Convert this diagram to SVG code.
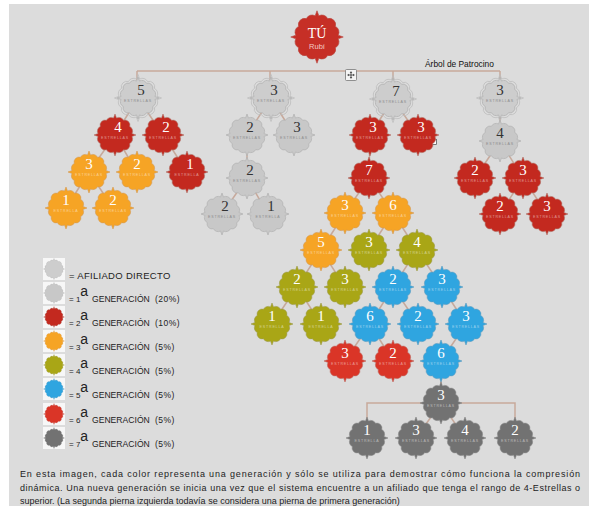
<svg xmlns="http://www.w3.org/2000/svg" width="589" height="508" viewBox="0 0 589 508">
<style>
.bg{fill:#dcdcdc}
.e{stroke:#c7a99b;stroke-width:1.5;fill:none}
.d{fill:#cdcdcd;stroke:#b3b3b3;stroke-width:0.8}
.dr{fill:none;stroke:#bdbdbd;stroke-width:0.7}
.g1{fill:#c8c8c8;stroke:#b5b5b5;stroke-width:0.8}
.r2{fill:#c3291f;stroke:#b0766c;stroke-width:0.6}
.o3{fill:#f6a425;stroke:#d39a55;stroke-width:0.6}
.v4{fill:#a9a616;stroke:#9c9a4a;stroke-width:0.6}
.b5{fill:#2fa5e0;stroke:#5d9cc0;stroke-width:0.6}
.r6{fill:#da3527;stroke:#c0675e;stroke-width:0.6}
.k7{fill:#727272;stroke:#8a8a8a;stroke-width:0.6}
.num{font-family:"Liberation Serif",serif;font-size:15px;text-anchor:middle}
.st{font-family:"Liberation Sans",sans-serif;font-size:3.6px;letter-spacing:0.8px;text-anchor:middle}
.dk{fill:#333}
.sd{fill:#8c8c8c}
.lt{fill:#fff}
.sl{fill:#fff;fill-opacity:0.5}
.lg{font-family:"Liberation Sans",Arial,sans-serif;fill:#222}
.ic{fill:#f7f7f7}
.gn{font-size:8.6px}
.pc{font-size:8.5px;letter-spacing:0.5px}
.para{font-family:"Liberation Sans",Arial,sans-serif;font-size:9px;fill:#222}
</style>
<defs>
<path id="bd" d="M1.48 -16.94 A5 5 0 0 1 8.5 -14.72 A5 5 0 0 1 14.72 -8.5 A5 5 0 0 1 16.94 -1.48 L21 0 L16.94 1.48 A5 5 0 0 1 14.72 8.5 A5 5 0 0 1 8.5 14.72 A5 5 0 0 1 1.48 16.94 L0 21 L-1.48 16.94 A5 5 0 0 1 -8.5 14.72 A5 5 0 0 1 -14.72 8.5 A5 5 0 0 1 -16.94 1.48 L-21 0 L-16.94 -1.48 A5 5 0 0 1 -14.72 -8.5 A5 5 0 0 1 -8.5 -14.72 A5 5 0 0 1 -1.48 -16.94 L0 -21 Z"/>
</defs>
<rect class="bg" x="9" y="4" width="580" height="502"/>

<g id="connectors" class="e">
<path d="M137 71H500M137 71V80M270 71V80M393 71V80M500 71V80"/>
<path d="M138 98L115 135M138 98L163 135M115 135L89 172M115 135L137 172M163 135L187 172M89 172L66 208M89 172L113 208"/>
<path d="M271 98L247 135M271 98L294 135M247 135L247 178M247 178L222 214M247 178L268 214"/>
<path d="M393 99L370 135M393 99L418 135M370 135L369 178M369 178L345 213M369 178L393 213M345 213L321 250M393 213L369 250M393 213L417 250M321 250L297 287M321 250L345 287M417 250L393 287M417 250L442 287M297 287L272 324M297 287L321 324M393 287L370 324M393 287L418 324M442 287L466 324M370 324L345 361M370 324L393 361M466 324L441 361M441 361L441 403"/>
<path d="M367 438V403H515V438M441 403L416 438M441 403L465 438"/>
<path d="M500 98L500 141M500 141L475 178M500 141L523 178M523 178L500 214M523 178L547 214"/>
</g>

<g id="root">
<use href="#bd" transform="translate(317 37) scale(1.25)" fill="#c62f26" stroke="#b8463e" stroke-width="0.5"/>
<text x="317" y="38" font-family="Liberation Serif,serif" font-size="14" fill="#fff" text-anchor="middle">TÚ</text>
<text x="317" y="49" font-family="Liberation Sans,sans-serif" font-size="7.5" fill="#f3c9c4" text-anchor="middle">Rubí</text>
</g>

<text id="title" x="425" y="67" font-family="Liberation Sans,Arial,sans-serif" font-size="8.4" fill="#111">Árbol de Patrocino</text>

<g id="move-icon">
<rect x="345.5" y="69.5" width="11" height="11" rx="1" fill="#f4f4f4" stroke="#777" stroke-width="0.8"/>
<path d="M351 72V78M348 75H354" stroke="#333" stroke-width="0.8"/>
<path d="M351 71.2l-1.3 1.5h2.6z M351 78.8l-1.3-1.5h2.6z M347.2 75l1.5-1.3v2.6z M354.8 75l-1.5-1.3v2.6z" fill="#333"/>
</g>
<rect id="handle" x="431.5" y="139.5" width="5" height="5" fill="#fff" stroke="#444" stroke-width="0.7"/>

<!-- direct affiliates -->
<g id="d5"><use href="#bd" class="dr" transform="translate(138 98) scale(1.12)"/><use href="#bd" class="d" x="138" y="98"/><text class="num dk" x="141" y="95">5</text><text class="st sd" x="138" y="101.5">ESTRELLAS</text></g>
<g id="d3a"><use href="#bd" class="dr" transform="translate(271 98) scale(1.12)"/><use href="#bd" class="d" x="271" y="98"/><text class="num dk" x="274" y="95">3</text><text class="st sd" x="271" y="101.5">ESTRELLAS</text></g>
<g id="d7"><use href="#bd" class="dr" transform="translate(393 99) scale(1.12)"/><use href="#bd" class="d" x="393" y="99"/><text class="num dk" x="396" y="96">7</text><text class="st sd" x="393" y="102.5">ESTRELLAS</text></g>
<g id="d3b"><use href="#bd" class="dr" transform="translate(500 98) scale(1.12)"/><use href="#bd" class="d" x="500" y="98"/><text class="num dk" x="500" y="95">3</text><text class="st sd" x="500" y="101.5">ESTRELLAS</text></g>

<!-- 1st generation gray -->
<g id="g1a"><use href="#bd" class="g1" x="247" y="135"/><text class="num dk" x="250" y="132">2</text><text class="st sd" x="247" y="138.5">ESTRELLAS</text></g>
<g id="g1b"><use href="#bd" class="g1" x="294" y="135"/><text class="num dk" x="297" y="132">3</text><text class="st sd" x="294" y="138.5">ESTRELLAS</text></g>
<g id="g1c"><use href="#bd" class="g1" x="247" y="178"/><text class="num dk" x="250" y="175">2</text><text class="st sd" x="247" y="181.5">ESTRELLAS</text></g>
<g id="g1d"><use href="#bd" class="g1" x="222" y="214"/><text class="num dk" x="225" y="211">2</text><text class="st sd" x="222" y="217.5">ESTRELLAS</text></g>
<g id="g1e"><use href="#bd" class="g1" x="268" y="214"/><text class="num dk" x="271" y="211">1</text><text class="st sd" x="268" y="217.5">ESTRELLA</text></g>
<g id="g1f"><use href="#bd" class="g1" x="500" y="141"/><text class="num dk" x="500" y="138">4</text><text class="st sd" x="500" y="144.5">ESTRELLAS</text></g>

<!-- 2nd generation red -->
<g id="r2a"><use href="#bd" class="r2" x="115" y="135"/><text class="num lt" x="118" y="132">4</text><text class="st sl" x="115" y="138.5">ESTRELLAS</text></g>
<g id="r2b"><use href="#bd" class="r2" x="163" y="135"/><text class="num lt" x="166" y="132">2</text><text class="st sl" x="163" y="138.5">ESTRELLAS</text></g>
<g id="r2c"><use href="#bd" class="r2" x="187" y="172"/><text class="num lt" x="190" y="169">1</text><text class="st sl" x="187" y="175.5">ESTRELLA</text></g>
<g id="r2d"><use href="#bd" class="r2" x="370" y="135"/><text class="num lt" x="373" y="132">3</text><text class="st sl" x="370" y="138.5">ESTRELLAS</text></g>
<g id="r2e"><use href="#bd" class="r2" x="418" y="135"/><text class="num lt" x="421" y="132">3</text><text class="st sl" x="418" y="138.5">ESTRELLAS</text></g>
<g id="r2f"><use href="#bd" class="r2" x="369" y="178"/><text class="num lt" x="369" y="175">7</text><text class="st sl" x="369" y="181.5">ESTRELLAS</text></g>
<g id="r2g"><use href="#bd" class="r2" x="475" y="178"/><text class="num lt" x="475" y="175">2</text><text class="st sl" x="475" y="181.5">ESTRELLAS</text></g>
<g id="r2h"><use href="#bd" class="r2" x="523" y="178"/><text class="num lt" x="523" y="175">3</text><text class="st sl" x="523" y="181.5">ESTRELLAS</text></g>
<g id="r2i"><use href="#bd" class="r2" x="500" y="214"/><text class="num lt" x="500" y="211">2</text><text class="st sl" x="500" y="217.5">ESTRELLAS</text></g>
<g id="r2j"><use href="#bd" class="r2" x="547" y="214"/><text class="num lt" x="547" y="211">3</text><text class="st sl" x="547" y="217.5">ESTRELLAS</text></g>

<!-- 3rd generation orange -->
<g id="o3a"><use href="#bd" class="o3" x="89" y="172"/><text class="num lt" x="89" y="169">3</text><text class="st sl" x="89" y="175.5">ESTRELLAS</text></g>
<g id="o3b"><use href="#bd" class="o3" x="137" y="172"/><text class="num lt" x="137" y="169">2</text><text class="st sl" x="137" y="175.5">ESTRELLAS</text></g>
<g id="o3c"><use href="#bd" class="o3" x="66" y="208"/><text class="num lt" x="66" y="205">1</text><text class="st sl" x="66" y="211.5">ESTRELLA</text></g>
<g id="o3d"><use href="#bd" class="o3" x="113" y="208"/><text class="num lt" x="113" y="205">2</text><text class="st sl" x="113" y="211.5">ESTRELLAS</text></g>
<g id="o3e"><use href="#bd" class="o3" x="345" y="213"/><text class="num lt" x="345" y="210">3</text><text class="st sl" x="345" y="216.5">ESTRELLAS</text></g>
<g id="o3f"><use href="#bd" class="o3" x="393" y="213"/><text class="num lt" x="393" y="210">6</text><text class="st sl" x="393" y="216.5">ESTRELLAS</text></g>
<g id="o3g"><use href="#bd" class="o3" x="321" y="250"/><text class="num lt" x="321" y="247">5</text><text class="st sl" x="321" y="253.5">ESTRELLAS</text></g>

<!-- 4th generation olive -->
<g id="v4a"><use href="#bd" class="v4" x="369" y="250"/><text class="num lt" x="369" y="247">3</text><text class="st sl" x="369" y="253.5">ESTRELLAS</text></g>
<g id="v4b"><use href="#bd" class="v4" x="417" y="250"/><text class="num lt" x="417" y="247">4</text><text class="st sl" x="417" y="253.5">ESTRELLAS</text></g>
<g id="v4c"><use href="#bd" class="v4" x="297" y="287"/><text class="num lt" x="297" y="284">2</text><text class="st sl" x="297" y="290.5">ESTRELLAS</text></g>
<g id="v4d"><use href="#bd" class="v4" x="345" y="287"/><text class="num lt" x="345" y="284">3</text><text class="st sl" x="345" y="290.5">ESTRELLAS</text></g>
<g id="v4e"><use href="#bd" class="v4" x="272" y="324"/><text class="num lt" x="272" y="321">1</text><text class="st sl" x="272" y="327.5">ESTRELLA</text></g>
<g id="v4f"><use href="#bd" class="v4" x="321" y="324"/><text class="num lt" x="321" y="321">1</text><text class="st sl" x="321" y="327.5">ESTRELLA</text></g>

<!-- 5th generation blue -->
<g id="b5a"><use href="#bd" class="b5" x="393" y="287"/><text class="num lt" x="393" y="284">2</text><text class="st sl" x="393" y="290.5">ESTRELLAS</text></g>
<g id="b5b"><use href="#bd" class="b5" x="442" y="287"/><text class="num lt" x="442" y="284">3</text><text class="st sl" x="442" y="290.5">ESTRELLAS</text></g>
<g id="b5c"><use href="#bd" class="b5" x="370" y="324"/><text class="num lt" x="370" y="321">6</text><text class="st sl" x="370" y="327.5">ESTRELLAS</text></g>
<g id="b5d"><use href="#bd" class="b5" x="418" y="324"/><text class="num lt" x="418" y="321">2</text><text class="st sl" x="418" y="327.5">ESTRELLAS</text></g>
<g id="b5e"><use href="#bd" class="b5" x="466" y="324"/><text class="num lt" x="466" y="321">3</text><text class="st sl" x="466" y="327.5">ESTRELLAS</text></g>
<g id="b5f"><use href="#bd" class="b5" x="441" y="361"/><text class="num lt" x="441" y="358">6</text><text class="st sl" x="441" y="364.5">ESTRELLAS</text></g>

<!-- 6th generation red -->
<g id="r6a"><use href="#bd" class="r6" x="345" y="361"/><text class="num lt" x="345" y="358">3</text><text class="st sl" x="345" y="364.5">ESTRELLAS</text></g>
<g id="r6b"><use href="#bd" class="r6" x="393" y="361"/><text class="num lt" x="393" y="358">2</text><text class="st sl" x="393" y="364.5">ESTRELLAS</text></g>

<!-- 7th generation dark gray -->
<g id="k7a"><use href="#bd" class="k7" x="441" y="403"/><text class="num lt" x="441" y="400">3</text><text class="st sl" x="441" y="406.5">ESTRELLAS</text></g>
<g id="k7b"><use href="#bd" class="k7" x="367" y="438"/><text class="num lt" x="367" y="435">1</text><text class="st sl" x="367" y="441.5">ESTRELLA</text></g>
<g id="k7c"><use href="#bd" class="k7" x="416" y="438"/><text class="num lt" x="416" y="435">3</text><text class="st sl" x="416" y="441.5">ESTRELLAS</text></g>
<g id="k7d"><use href="#bd" class="k7" x="465" y="438"/><text class="num lt" x="465" y="435">4</text><text class="st sl" x="465" y="441.5">ESTRELLAS</text></g>
<g id="k7e"><use href="#bd" class="k7" x="515" y="438"/><text class="num lt" x="515" y="435">2</text><text class="st sl" x="515" y="441.5">ESTRELLAS</text></g>

<!-- legend -->
<g id="legend">
<rect class="ic" x="43" y="258" width="22" height="22"/><use href="#bd" class="d" transform="translate(54 269) scale(0.5)"/>
<text class="lg" x="69" y="279" font-size="9.5" letter-spacing="0.3">= AFILIADO DIRECTO</text>

<rect class="ic" x="43" y="282" width="22" height="22"/><use href="#bd" class="g1" transform="translate(54 293) scale(0.5)"/>
<text class="lg" y="302"><tspan x="69" font-size="8">= 1</tspan><tspan font-size="14" dy="-6.5">a</tspan><tspan class="gn" x="92" dy="6.5">GENERACIÓN</tspan><tspan class="pc" x="155">(20%)</tspan></text>

<rect class="ic" x="43" y="306" width="22" height="22"/><use href="#bd" class="r2" transform="translate(54 317) scale(0.5)"/>
<text class="lg" y="326"><tspan x="69" font-size="8">= 2</tspan><tspan font-size="14" dy="-6.5">a</tspan><tspan class="gn" x="92" dy="6.5">GENERACIÓN</tspan><tspan class="pc" x="155">(10%)</tspan></text>

<rect class="ic" x="43" y="330" width="22" height="22"/><use href="#bd" class="o3" transform="translate(54 341) scale(0.5)"/>
<text class="lg" y="350"><tspan x="69" font-size="8">= 3</tspan><tspan font-size="14" dy="-6.5">a</tspan><tspan class="gn" x="92" dy="6.5">GENERACIÓN</tspan><tspan class="pc" x="155">(5%)</tspan></text>

<rect class="ic" x="43" y="354" width="22" height="22"/><use href="#bd" class="v4" transform="translate(54 365) scale(0.5)"/>
<text class="lg" y="374"><tspan x="69" font-size="8">= 4</tspan><tspan font-size="14" dy="-6.5">a</tspan><tspan class="gn" x="92" dy="6.5">GENERACIÓN</tspan><tspan class="pc" x="155">(5%)</tspan></text>

<rect class="ic" x="43" y="378" width="22" height="22"/><use href="#bd" class="b5" transform="translate(54 389) scale(0.5)"/>
<text class="lg" y="398"><tspan x="69" font-size="8">= 5</tspan><tspan font-size="14" dy="-6.5">a</tspan><tspan class="gn" x="92" dy="6.5">GENERACIÓN</tspan><tspan class="pc" x="155">(5%)</tspan></text>

<rect class="ic" x="43" y="403" width="22" height="22"/><use href="#bd" class="r6" transform="translate(54 414) scale(0.5)"/>
<text class="lg" y="423"><tspan x="69" font-size="8">= 6</tspan><tspan font-size="14" dy="-6.5">a</tspan><tspan class="gn" x="92" dy="6.5">GENERACIÓN</tspan><tspan class="pc" x="155">(5%)</tspan></text>

<rect class="ic" x="43" y="427" width="22" height="22"/><use href="#bd" class="k7" transform="translate(54 438) scale(0.5)"/>
<text class="lg" y="447"><tspan x="69" font-size="8">= 7</tspan><tspan font-size="14" dy="-6.5">a</tspan><tspan class="gn" x="92" dy="6.5">GENERACIÓN</tspan><tspan class="pc" x="155">(5%)</tspan></text>
</g>

<g id="caption" class="para">
<text x="20" y="477" textLength="560" lengthAdjust="spacing">En esta imagen, cada color representa una generación y sólo se utiliza para demostrar cómo funciona la compresión</text>
<text x="20" y="491" textLength="560" lengthAdjust="spacing">dinámica. Una nueva generación se inicia una vez que el sistema encuentre a un afiliado que tenga el rango de 4-Estrellas o</text>
<text x="20" y="504">superior. (La segunda pierna izquierda todavía se considera una pierna de primera generación)</text>
</g>
</svg>
